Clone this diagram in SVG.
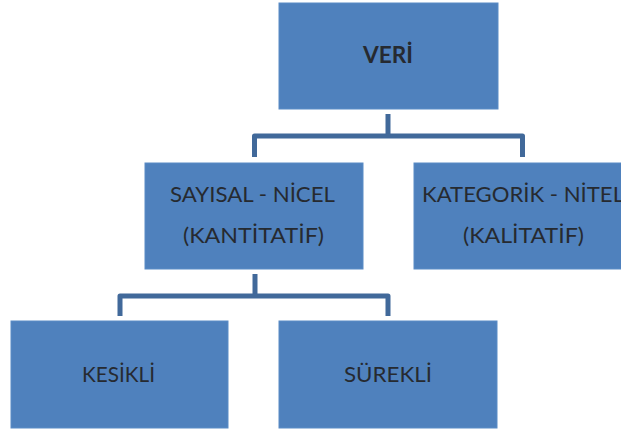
<svg xmlns="http://www.w3.org/2000/svg" width="621" height="430" viewBox="0 0 621 430">
<style>
.box{fill:#4F81BD;stroke:#5B8CC6;stroke-width:1}
.t{font-family:Lato,"Open Sans","Liberation Sans",sans-serif;font-size:22px;fill:#262A30;text-anchor:middle}
.b{font-weight:bold}
.c{fill:none;stroke:#41699A;stroke-width:5;stroke-linejoin:round}
</style>
<rect width="621" height="430" fill="#FFFFFF"/>
<g id="connectors">
<path class="c" d="M388 114V136"/>
<path class="c" d="M254.5 157V136H522.5V157"/>
<path class="c" d="M255 274V296"/>
<path class="c" d="M120 316V296H388V316"/>
</g>
<g id="veri">
<rect class="box" x="279" y="3" width="219" height="106"/>
<text class="t b" x="388" y="63" textLength="50" lengthAdjust="spacingAndGlyphs">VERİ</text>
</g>
<g id="sayisal">
<rect class="box" x="145" y="163" width="218" height="106"/>
<text class="t" x="252.5" y="202" textLength="165" lengthAdjust="spacingAndGlyphs">SAYISAL - NİCEL</text>
<text class="t" x="253.5" y="243" textLength="141" lengthAdjust="spacingAndGlyphs">(KANTİTATİF)</text>
</g>
<g id="kategorik">
<rect class="box" x="414" y="163" width="218" height="106"/>
<text class="t" x="523" y="202" textLength="202" lengthAdjust="spacingAndGlyphs">KATEGORİK - NİTEL</text>
<text class="t" x="523.5" y="243" textLength="121" lengthAdjust="spacingAndGlyphs">(KALİTATİF)</text>
</g>
<g id="kesikli">
<rect class="box" x="11" y="321" width="217" height="107"/>
<text class="t" x="118.5" y="382" textLength="73" lengthAdjust="spacingAndGlyphs">KESİKLİ</text>
</g>
<g id="surekli">
<rect class="box" x="279" y="321" width="218" height="107"/>
<text class="t" x="388" y="382" textLength="88" lengthAdjust="spacingAndGlyphs">SÜREKLİ</text>
</g>
</svg>
